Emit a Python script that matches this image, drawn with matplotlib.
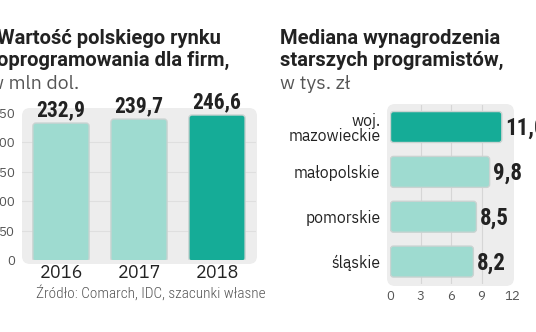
import matplotlib
matplotlib.use("Agg")
import matplotlib.pyplot as plt
from matplotlib.patches import FancyBboxPatch
from matplotlib.transforms import IdentityTransform

# rynek oprogramowania dla firm, mln USD
years = ["2016", "2017", "2018"]
market = [232.9, 239.7, 246.6]

# mediana wynagrodzen, tys. zl
regions = ["woj.\nmazowieckie", "małopolskie", "pomorskie", "śląskie"]
salary = [11.0, 9.8, 8.5, 8.2]

LIGHT = "#9edbd0"
DARK = "#15ac97"
PANEL = "#ededed"
TXT = "#222222"
SOFT = "#555555"
SANS = "IBM Plex Sans"
HEAD = "Roboto"
NUM = "Roboto Condensed"

W, H = 536, 332
fig = plt.figure(figsize=(W / 100, H / 100), dpi=100)
fig.patch.set_facecolor("white")


def px_axes(x0, y0, x1, y1):
    # axes box given in pixels from the top-left corner
    ax = fig.add_axes([x0 / W, 1 - y1 / H, (x1 - x0) / W, (y1 - y0) / H])
    ax.set_zorder(2)
    ax.patch.set_visible(False)
    return ax


def panel(x0, y0, x1, y1, r=8):
    p = FancyBboxPatch((x0, H - y1), x1 - x0, y1 - y0,
                       boxstyle=f"round,pad=0,rounding_size={r}",
                       transform=IdentityTransform(), fc=PANEL, ec="none",
                       zorder=-1)
    fig.patches.append(p)


def rounded_bar(ax, x, y, w, h, color, r_px=3):
    fig.canvas.draw()
    bb = ax.get_window_extent()
    x0, x1 = ax.get_xlim()
    y0, y1 = ax.get_ylim()
    ppx = bb.width / abs(x1 - x0)
    ppy = bb.height / abs(y1 - y0)
    p = FancyBboxPatch((x, y), w, h,
                       boxstyle=f"round,pad=0,rounding_size={r_px / ppx}",
                       mutation_aspect=ppx / ppy,
                       fc=color, ec="#c9d3d1", lw=1.0, zorder=3)
    ax.add_patch(p)


def text_px(x, y, s, **kw):
    fig.text(x / W, 1 - y / H, s, va="baseline", **kw)


# --- lewy wykres ---
panel(22, 108, 257, 264)
ax1 = px_axes(22, 113, 256, 260)
ax1.set_xlim(-0.5, 2.5)
ax1.set_ylim(0, 250)
for v in [50, 100, 150, 200]:
    ax1.axhline(v, color="#dfdfdf", lw=0.8, zorder=1)
bw = 0.72
for i, (yr, v) in enumerate(zip(years, market)):
    rounded_bar(ax1, i - bw / 2, -2, bw, v + 2, DARK if i == 2 else LIGHT)
    ax1.text(i, v + 3, f"{v:.1f}".replace(".", ","), ha="center", va="bottom",
             fontsize=15.5, fontweight="bold", family=NUM, color=TXT)
ax1.set_yticks([0, 50, 100, 150, 200, 250])
ax1.set_xticks(range(3))
ax1.set_xticklabels(years, fontsize=13, color=TXT, family=SANS)
ax1.tick_params(axis="y", length=0, pad=5, labelsize=9.5, labelcolor=SOFT)
for lab in ax1.get_yticklabels():
    lab.set_family(SANS)
ax1.tick_params(axis="x", length=0, pad=3)
for s in ax1.spines.values():
    s.set_visible(False)

text_px(-3, 44, "Wartość polskiego rynku", fontsize=14.5, fontweight="bold",
        family=HEAD, color=TXT)
text_px(-3, 66, "oprogramowania dla firm,", fontsize=14.5, fontweight="bold",
        family=HEAD, color=TXT)
text_px(-11, 89, "w mln dol.", fontsize=14, family=SANS, color="#555555")
text_px(36, 298, "Źródło: Comarch, IDC, szacunki własne", fontsize=11,
        family=NUM, fontweight="light", color=SOFT)

# --- prawy wykres ---
panel(387, 104, 514, 286)
ax2 = px_axes(390, 104.6, 512, 284)
ax2.set_xlim(0, 12)
ax2.set_ylim(3.5, -0.5)
for v in [3, 6, 9]:
    ax2.axvline(v, color="#d6d6d6", lw=0.8, zorder=1)
bh = 0.69
for i, (lab, v) in enumerate(zip(regions, salary)):
    rounded_bar(ax2, 0.05, i - bh / 2, v - 0.05, bh, DARK if i == 0 else LIGHT)
    ax2.text(v + 0.35, i + 0.03, f"{v:.1f}".replace(".", ","), ha="left",
             va="center", fontsize=16.5, fontweight="bold", family=NUM,
             color=TXT, clip_on=False)
ax2.set_yticks(range(4))
ax2.set_yticklabels(regions, fontsize=11.3, color=TXT, family=SANS,
                    linespacing=0.95)
ax2.set_xticks([0, 3, 6, 9, 12])
ax2.tick_params(axis="y", length=0, pad=7)
ax2.tick_params(axis="x", length=0, pad=4, labelsize=9.5, labelcolor=SOFT)
for lab in ax2.get_xticklabels():
    lab.set_family(SANS)
for s in ax2.spines.values():
    s.set_visible(False)

text_px(280, 44, "Mediana wynagrodzenia", fontsize=14.5, fontweight="bold",
        family=HEAD, color=TXT)
text_px(280, 66, "starszych programistów,", fontsize=14.5, fontweight="bold",
        family=HEAD, color=TXT)
text_px(280, 89, "w tys. zł", fontsize=14, family=SANS, color="#555555")

fig.savefig("out.png", dpi=100)
